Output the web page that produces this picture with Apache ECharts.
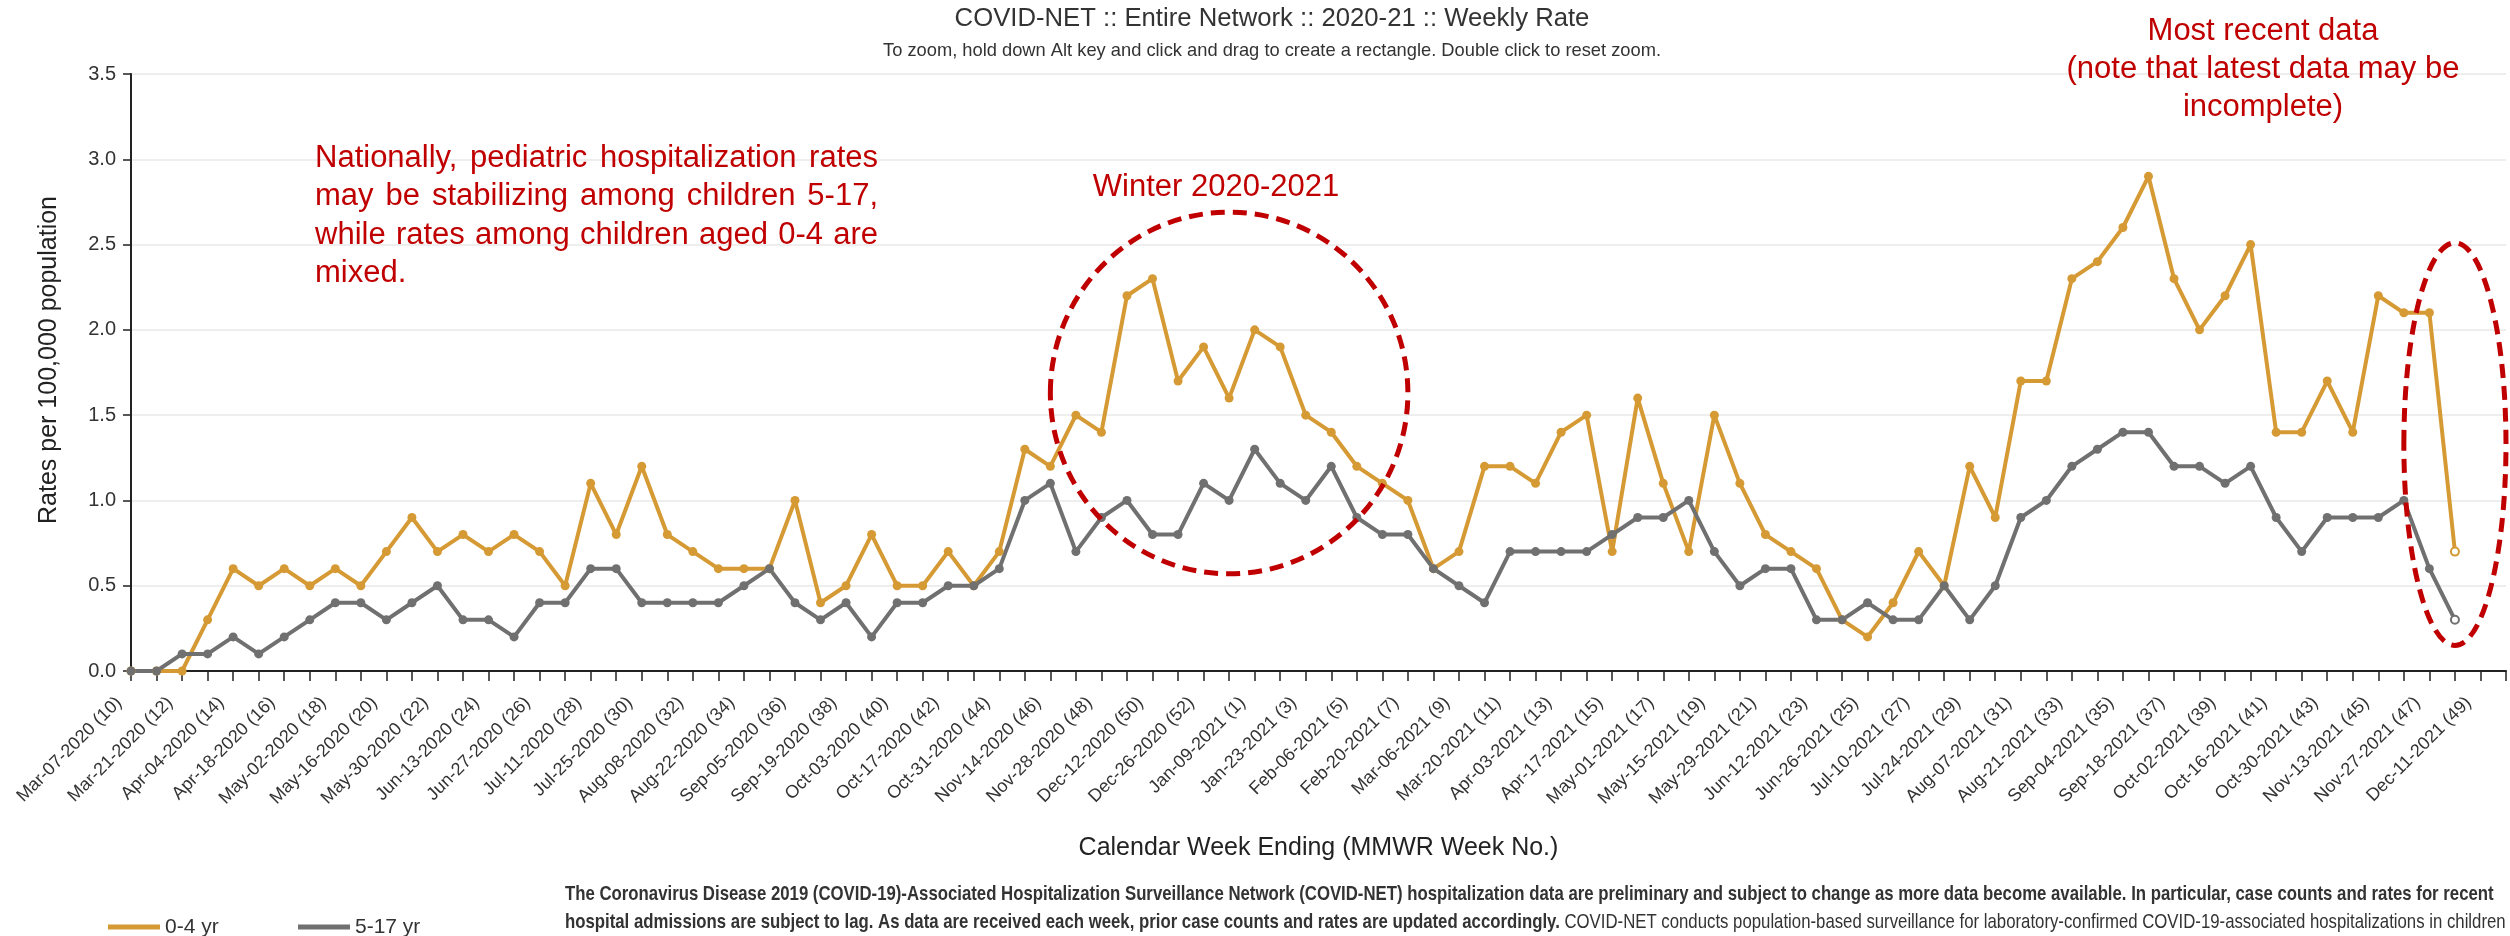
<!DOCTYPE html>
<html>
<head>
<meta charset="utf-8">
<title>COVID-NET Weekly Rate</title>
<script src="https://cdn.jsdelivr.net/npm/echarts@6/dist/echarts.min.js"></script>
<style>
  html, body { margin: 0; padding: 0; background: #fff; }
  #chart { width: 2510px; height: 936px; }
</style>
</head>
<body>
<div id="chart"></div>
<script>
// weeks ending (MMWR week no.), Mar 2020 - Dec 2021
var weeks = [
  'Mar-07-2020 (10)', 'Mar-14-2020 (11)', 'Mar-21-2020 (12)', 'Mar-28-2020 (13)',
  'Apr-04-2020 (14)', 'Apr-11-2020 (15)', 'Apr-18-2020 (16)', 'Apr-25-2020 (17)',
  'May-02-2020 (18)', 'May-09-2020 (19)', 'May-16-2020 (20)', 'May-23-2020 (21)',
  'May-30-2020 (22)', 'Jun-06-2020 (23)', 'Jun-13-2020 (24)', 'Jun-20-2020 (25)',
  'Jun-27-2020 (26)', 'Jul-04-2020 (27)', 'Jul-11-2020 (28)', 'Jul-18-2020 (29)',
  'Jul-25-2020 (30)', 'Aug-01-2020 (31)', 'Aug-08-2020 (32)', 'Aug-15-2020 (33)',
  'Aug-22-2020 (34)', 'Aug-29-2020 (35)', 'Sep-05-2020 (36)', 'Sep-12-2020 (37)',
  'Sep-19-2020 (38)', 'Sep-26-2020 (39)', 'Oct-03-2020 (40)', 'Oct-10-2020 (41)',
  'Oct-17-2020 (42)', 'Oct-24-2020 (43)', 'Oct-31-2020 (44)', 'Nov-07-2020 (45)',
  'Nov-14-2020 (46)', 'Nov-21-2020 (47)', 'Nov-28-2020 (48)', 'Dec-05-2020 (49)',
  'Dec-12-2020 (50)', 'Dec-19-2020 (51)', 'Dec-26-2020 (52)', 'Jan-02-2021 (53)',
  'Jan-09-2021 (1)', 'Jan-16-2021 (2)', 'Jan-23-2021 (3)', 'Jan-30-2021 (4)',
  'Feb-06-2021 (5)', 'Feb-13-2021 (6)', 'Feb-20-2021 (7)', 'Feb-27-2021 (8)',
  'Mar-06-2021 (9)', 'Mar-13-2021 (10)', 'Mar-20-2021 (11)', 'Mar-27-2021 (12)',
  'Apr-03-2021 (13)', 'Apr-10-2021 (14)', 'Apr-17-2021 (15)', 'Apr-24-2021 (16)',
  'May-01-2021 (17)', 'May-08-2021 (18)', 'May-15-2021 (19)', 'May-22-2021 (20)',
  'May-29-2021 (21)', 'Jun-05-2021 (22)', 'Jun-12-2021 (23)', 'Jun-19-2021 (24)',
  'Jun-26-2021 (25)', 'Jul-03-2021 (26)', 'Jul-10-2021 (27)', 'Jul-17-2021 (28)',
  'Jul-24-2021 (29)', 'Jul-31-2021 (30)', 'Aug-07-2021 (31)', 'Aug-14-2021 (32)',
  'Aug-21-2021 (33)', 'Aug-28-2021 (34)', 'Sep-04-2021 (35)', 'Sep-11-2021 (36)',
  'Sep-18-2021 (37)', 'Sep-25-2021 (38)', 'Oct-02-2021 (39)', 'Oct-09-2021 (40)',
  'Oct-16-2021 (41)', 'Oct-23-2021 (42)', 'Oct-30-2021 (43)', 'Nov-06-2021 (44)',
  'Nov-13-2021 (45)', 'Nov-20-2021 (46)', 'Nov-27-2021 (47)', 'Dec-04-2021 (48)',
  'Dec-11-2021 (49)', 'Dec-18-2021 (50)'
];

// rates per 100,000, one value per week (last week is provisional)
var rate0to4 = [
  0, 0, 0, 0.3, 0.6, 0.5, 0.6, 0.5, 0.6, 0.5,
  0.7, 0.9, 0.7, 0.8, 0.7, 0.8, 0.7, 0.5, 1.1, 0.8,
  1.2, 0.8, 0.7, 0.6, 0.6, 0.6, 1.0, 0.4, 0.5, 0.8,
  0.5, 0.5, 0.7, 0.5, 0.7, 1.3, 1.2, 1.5, 1.4, 2.2,
  2.3, 1.7, 1.9, 1.6, 2.0, 1.9, 1.5, 1.4, 1.2, 1.1,
  1.0, 0.6, 0.7, 1.2, 1.2, 1.1, 1.4, 1.5, 0.7, 1.6,
  1.1, 0.7, 1.5, 1.1, 0.8, 0.7, 0.6, 0.3, 0.2, 0.4,
  0.7, 0.5, 1.2, 0.9, 1.7, 1.7, 2.3, 2.4, 2.6, 2.9,
  2.3, 2.0, 2.2, 2.5, 1.4, 1.4, 1.7, 1.4, 2.2, 2.1,
  2.1, 0.7
];
var rate5to17 = [
  0, 0, 0.1, 0.1, 0.2, 0.1, 0.2, 0.3, 0.4, 0.4,
  0.3, 0.4, 0.5, 0.3, 0.3, 0.2, 0.4, 0.4, 0.6, 0.6,
  0.4, 0.4, 0.4, 0.4, 0.5, 0.6, 0.4, 0.3, 0.4, 0.2,
  0.4, 0.4, 0.5, 0.5, 0.6, 1.0, 1.1, 0.7, 0.9, 1.0,
  0.8, 0.8, 1.1, 1.0, 1.3, 1.1, 1.0, 1.2, 0.9, 0.8,
  0.8, 0.6, 0.5, 0.4, 0.7, 0.7, 0.7, 0.7, 0.8, 0.9,
  0.9, 1.0, 0.7, 0.5, 0.6, 0.6, 0.3, 0.3, 0.4, 0.3,
  0.3, 0.5, 0.3, 0.5, 0.9, 1.0, 1.2, 1.3, 1.4, 1.4,
  1.2, 1.2, 1.1, 1.2, 0.9, 0.7, 0.9, 0.9, 0.9, 1.0,
  0.6, 0.3
];
var seriesNames = ['0-4 yr', '5-17 yr'];

var yMin = 0, yMax = 3.5, yStep = 0.5;

var titleText = 'COVID-NET :: Entire Network :: 2020-21 :: Weekly Rate';
var subText = 'To zoom, hold down Alt key and click and drag to create a rectangle. Double click to reset zoom.';
var yTitle = 'Rates per 100,000 population';
var xTitle = 'Calendar Week Ending (MMWR Week No.)';
var noteLines = [
  'Nationally, pediatric hospitalization rates',
  'may be stabilizing among children 5-17,',
  'while rates among children aged 0-4 are',
  'mixed.'
];
var winterText = 'Winter 2020-2021';
var recentLines = ['Most recent data', '(note that latest data may be', 'incomplete)'];
var footLine1 = 'The Coronavirus Disease 2019 (COVID-19)-Associated Hospitalization Surveillance Network (COVID-NET) hospitalization data are preliminary and subject to change as more data become available. In particular, case counts and rates for recent';
var footLine2Bold = 'hospital admissions are subject to lag. As data are received each week, prior case counts and rates are updated accordingly.';
var footLine2 = ' COVID-NET conducts population-based surveillance for laboratory-confirmed COVID-19-associated hospitalizations in children';

// ellipses in data space: [week index, rate], half sizes in weeks / rate
var winterRing = { center: [42.5, 1.63], half: [7.36, 1.06] };
var recentRing = { center: [90.64, 1.33], half: [2.27, 1.18] };

var FONT = '"Liberation Sans", Arial, Helvetica, sans-serif';
var ORANGE = '#D69A35';
var GRAY = '#707070';
var RED = '#C00000';
var INK = '#333333';

var measureCtx = document.createElement('canvas').getContext('2d');
function textWidth(str, size, weight, family) {
  measureCtx.font = (weight || 'normal') + ' ' + size + 'px ' + (family || FONT);
  return measureCtx.measureText(str).width;
}
function fitSize(str, width, weight) {
  return 20 * width / textWidth(str, 20, weight);
}
function hasFont(name) {
  var probe = 'abcdefghijklmnopqrstuvwxyz 0123456789';
  return textWidth(probe, 40, 'normal', 'monospace') !== textWidth(probe, 40, 'normal', '"' + name + '", monospace');
}

// the legend in the original uses a condensed face
var NARROW = hasFont('Liberation Sans Narrow') ? '"Liberation Sans Narrow", ' + FONT : null;
var legendFamily = NARROW || FONT;
var legendSize = NARROW ? 24 : 21;

function textEl(str, x, y, size, color, align, weight, extra) {
  var el = {
    type: 'text', x: x, y: y, silent: true, z: 100,
    style: {
      text: str, fontSize: size, fontFamily: FONT, fontWeight: weight || 'normal',
      fill: color, textAlign: align, align: align,
      textVerticalAlign: 'middle', verticalAlign: 'middle'
    }
  };
  for (var k in extra) el[k] = extra[k];
  return el;
}
function justified(line, x, y, width, size, color, last) {
  var words = line.split(' ');
  var widths = words.map(function (w) { return textWidth(w, size); });
  var total = widths.reduce(function (a, b) { return a + b; }, 0);
  var gap = last || words.length < 2 ? textWidth(' ', size) : (width - total) / (words.length - 1);
  var cur = x;
  return words.map(function (w, i) {
    var el = textEl(w, cur, y, size, color, 'left');
    cur += widths[i] + gap;
    return el;
  });
}

function withProvisionalLast(values, color) {
  return values.map(function (v, i) {
    if (i < values.length - 1) return v;
    return { value: v, symbolSize: 8, itemStyle: { color: '#fff', borderColor: color, borderWidth: 2 } };
  });
}

var chart = echarts.init(document.getElementById('chart'));

var legendIconW = 52;
var legendY = 922;
var firstTextW = textWidth(seriesNames[0], legendSize, 'normal', legendFamily);

var option = {
  animation: false,
  backgroundColor: '#fff',
  textStyle: { fontFamily: FONT },
  grid: { left: 131, right: 4, top: 74, bottom: 265, containLabel: false, outerBoundsMode: 'none' },
  legend: {
    left: 103, top: legendY - legendSize / 2,
    icon: 'rect', itemWidth: legendIconW, itemHeight: 5,
    itemGap: Math.max(10, 293 - (103 + legendIconW + 5 + firstTextW)),
    textStyle: { fontSize: legendSize, color: INK, fontFamily: legendFamily },
    data: seriesNames
  },
  xAxis: {
    type: 'category',
    data: weeks,
    boundaryGap: false,
    axisLine: { lineStyle: { color: '#222', width: 2 } },
    axisTick: { show: true, interval: 0, length: 10, lineStyle: { color: '#222', width: 1.5 } },
    axisLabel: {
      interval: 1, rotate: 45, fontSize: 18, color: INK, fontFamily: FONT,
      margin: 17, padding: [0, 17, 0, 0]
    },
    splitLine: { show: false },
    name: xTitle,
    nameLocation: 'middle',
    nameGap: 165,
    nameTextStyle: { fontSize: 25, color: '#222', fontFamily: FONT }
  },
  yAxis: {
    type: 'value',
    min: yMin, max: yMax, interval: yStep,
    axisLine: { show: true, lineStyle: { color: '#222', width: 2 } },
    axisTick: { show: true, length: 8, lineStyle: { color: '#222', width: 1.5 } },
    axisLabel: {
      fontSize: 20, color: INK, fontFamily: FONT, margin: 15,
      formatter: function (v) { return v.toFixed(1); }
    },
    splitLine: { lineStyle: { color: '#e8e8e8', width: 1.5 } }
  },
  series: [
    {
      name: seriesNames[0], type: 'line',
      data: withProvisionalLast(rate0to4, ORANGE),
      symbol: 'circle', symbolSize: 9, showAllSymbol: true,
      lineStyle: { width: 4, color: ORANGE },
      itemStyle: { color: ORANGE }
    },
    {
      name: seriesNames[1], type: 'line',
      data: withProvisionalLast(rate5to17, GRAY),
      symbol: 'circle', symbolSize: 9, showAllSymbol: true,
      lineStyle: { width: 4, color: GRAY },
      itemStyle: { color: GRAY }
    }
  ]
};
chart.setOption(option);

// annotations, placed after the grid exists
function ring(r) {
  var c = chart.convertToPixel({ gridIndex: 0 }, r.center);
  var e = chart.convertToPixel({ gridIndex: 0 }, [r.center[0] + r.half[0], r.center[1] + r.half[1]]);
  return {
    type: 'ellipse', silent: true, z: 100,
    shape: { cx: c[0], cy: c[1], rx: Math.abs(e[0] - c[0]), ry: Math.abs(c[1] - e[1]) },
    style: { fill: 'none', stroke: RED, lineWidth: 5, lineDash: [14, 8] }
  };
}

var els = [];
els.push(textEl(titleText, 1272, 19, fitSize(titleText, 635), INK, 'center'));
els.push(textEl(subText, 1272, 51, fitSize(subText, 779), INK, 'center'));
els.push(textEl(yTitle, 49, 360, 25, '#222', 'center', 'normal', { rotation: Math.PI / 2 }));

var noteSize = 31;
noteLines.forEach(function (line, i) {
  els = els.concat(justified(line, 315, 158 + i * 38.5, 563, noteSize, RED, i === noteLines.length - 1));
});
els.push(textEl(winterText, 1216, 187, noteSize, RED, 'center'));
recentLines.forEach(function (line, i) {
  els.push(textEl(line, 2263, 31 + i * 38, noteSize, RED, 'center'));
});
els.push(ring(winterRing));
els.push(ring(recentRing));

// footnote: condensed look, width fitted and glyphs stretched vertically
var footSize = fitSize(footLine1, 1930, 'bold');
var tall = { scaleY: 1.2 };
els.push(textEl(footLine1, 565, 894, footSize, INK, 'left', 'bold', tall));
els.push(textEl(footLine2Bold, 565, 922, footSize, INK, 'left', 'bold', tall));
els.push(textEl(footLine2, 565 + textWidth(footLine2Bold, footSize, 'bold'), 922, footSize, INK, 'left', 'normal', tall));

chart.setOption({ graphic: { elements: els } });
</script>
</body>
</html>
